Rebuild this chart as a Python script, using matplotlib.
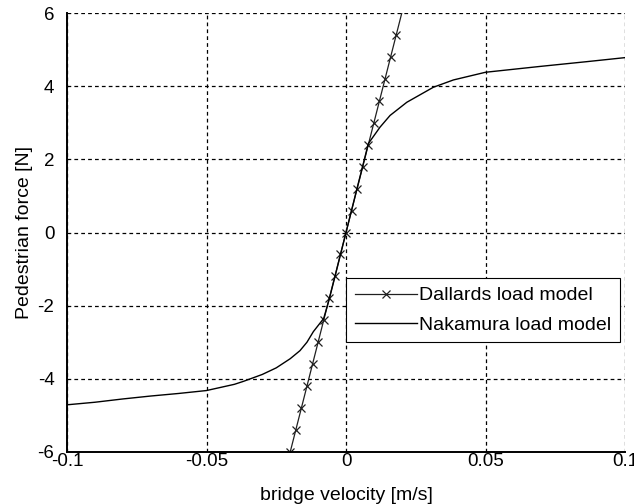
import numpy as np
import matplotlib.pyplot as plt

plt.rcParams['font.family'] = ['Liberation Sans', 'DejaVu Sans']
plt.rcParams['axes.unicode_minus'] = False

# Dallard: linear load model, F = k*v
v_dallard = [-0.020, -0.018, -0.016, -0.014, -0.012, -0.010, -0.008, -0.006,
             -0.004, -0.002, 0.000, 0.002, 0.004, 0.006, 0.008, 0.010,
             0.012, 0.014, 0.016, 0.018, 0.020]
f_dallard = [-6.0, -5.4, -4.8, -4.2, -3.6, -3.0, -2.4, -1.8, -1.2, -0.6, 0.0,
             0.6, 1.2, 1.8, 2.4, 3.0, 3.6, 4.2, 4.8, 5.4, 6.0]

# Nakamura: saturating load model
v_nakamura = [-0.100, -0.090, -0.080, -0.070, -0.060, -0.050, -0.040, -0.0368,
              -0.030, -0.025, -0.020, -0.0165, -0.014, -0.0117, -0.008, -0.006,
              -0.004, -0.002, 0.000, 0.002, 0.004, 0.006, 0.008, 0.0122,
              0.0158, 0.0218, 0.0313, 0.0385, 0.050, 0.0696, 0.0863, 0.100]
f_nakamura = [-4.71, -4.64, -4.55, -4.47, -4.40, -4.32, -4.15, -4.07,
              -3.88, -3.70, -3.45, -3.23, -3.00, -2.71, -2.35, -1.82,
              -1.22, -0.61, 0.00, 0.61, 1.22, 1.82, 2.43, 2.88,
              3.20, 3.56, 3.97, 4.17, 4.38, 4.54, 4.67, 4.78]

fig = plt.figure(figsize=(6.34, 5.04), dpi=100)
ax = fig.add_axes([67/634, 1 - 452/504, 558/634, 439/504])

ax.plot(v_dallard, f_dallard, color='#202020', lw=0.9, marker='x', ms=6,
        mew=0.9, markevery=slice(0, 20), label='Dallards load model')
ax.plot(v_nakamura, f_nakamura, color='black', lw=1.0,
        label='Nakamura load model')

ax.set_xlim(-0.1, 0.1)
ax.set_ylim(-6, 6)
ax.set_xticks([-0.1, -0.05, 0, 0.05, 0.1])
ax.set_xticklabels(['-0.1', '-0.05', '0', '0.05', '0.1'])
ax.set_yticks([-6, -4, -2, 0, 2, 4, 6])

ax.grid(True, color='black', ls=(0, (3, 2.5)), lw=0.9)
ax.spines['top'].set_visible(False)
ax.spines['right'].set_visible(False)
ax.spines['left'].set_linewidth(1.4)
ax.spines['bottom'].set_linewidth(1.4)
ax.tick_params(axis='both', direction='in', length=0, labelsize=13.5)
ax.tick_params(axis='x', pad=1)
ax.tick_params(axis='y', pad=9)

ax.set_xlabel('bridge velocity [m/s]', fontsize=14, labelpad=12)
ax.set_ylabel('Pedestrian force [N]', fontsize=14, labelpad=3)

leg = ax.legend(loc='center right', bbox_to_anchor=(0.991, 0.323),
                fontsize=14, fancybox=False, framealpha=1,
                edgecolor='black', handlelength=3.2, handletextpad=0.1,
                borderpad=0.45, labelspacing=0.6, borderaxespad=0)
leg.get_frame().set_linewidth(0.8)

fig.savefig('out.png', dpi=100)
